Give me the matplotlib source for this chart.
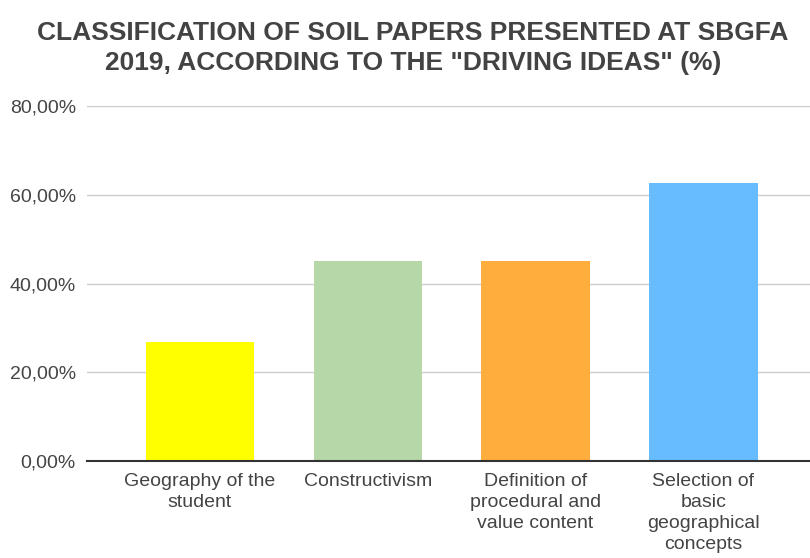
import matplotlib
matplotlib.use("Agg")
import matplotlib.pyplot as plt
from matplotlib.ticker import FuncFormatter

categories = ["Geography of the\nstudent", "Constructivism",
              "Definition of\nprocedural and\nvalue content",
              "Selection of\nbasic\ngeographical\nconcepts"]
values = [26.8, 45.0, 45.0, 62.7]
colors = ["#ffff00", "#b6d7a8", "#ffad3d", "#66bcff"]
yticks = [0, 20, 40, 60, 80]
title = "CLASSIFICATION OF SOIL PAPERS PRESENTED AT SBGFA\n2019, ACCORDING TO THE \"DRIVING IDEAS\" (%)"

plt.rcParams['font.family'] = ['Liberation Sans', 'DejaVu Sans']

fig = plt.figure(figsize=(8.1, 5.58), dpi=100)
ax = fig.add_axes([87/810, 1 - 461/558, 1 - 87/810, (461 - 106.2)/558])

x = list(range(len(categories)))
ax.bar(x, values, width=0.646, color=colors, zorder=3)
ax.set_xlim(-0.673, 3.635)
ax.set_ylim(0, 80)
ax.set_yticks(yticks)
ax.yaxis.set_major_formatter(FuncFormatter(lambda v, p: f"{v:.2f}%".replace(".", ",")))
ax.set_xticks(x)
ax.set_xticklabels(categories, linespacing=1.3)
ax.grid(axis='y', color='#cccccc', linewidth=1, zorder=0)
ax.tick_params(axis='both', length=0, labelsize=14, labelcolor='#444444')
ax.tick_params(axis='y', pad=8)
ax.tick_params(axis='x', pad=9)
for s in ['top', 'right', 'left']:
    ax.spines[s].set_visible(False)
ax.spines['bottom'].set_color('#333333')
ax.spines['bottom'].set_linewidth(1.5)
ax.spines['bottom'].set_zorder(4)

fig.text(413/810, 1 - 21/558, title, ha='center', va='top', fontsize=19,
         fontweight='bold', color='#434343', linespacing=1.33)

fig.savefig("out.png", dpi=100)
